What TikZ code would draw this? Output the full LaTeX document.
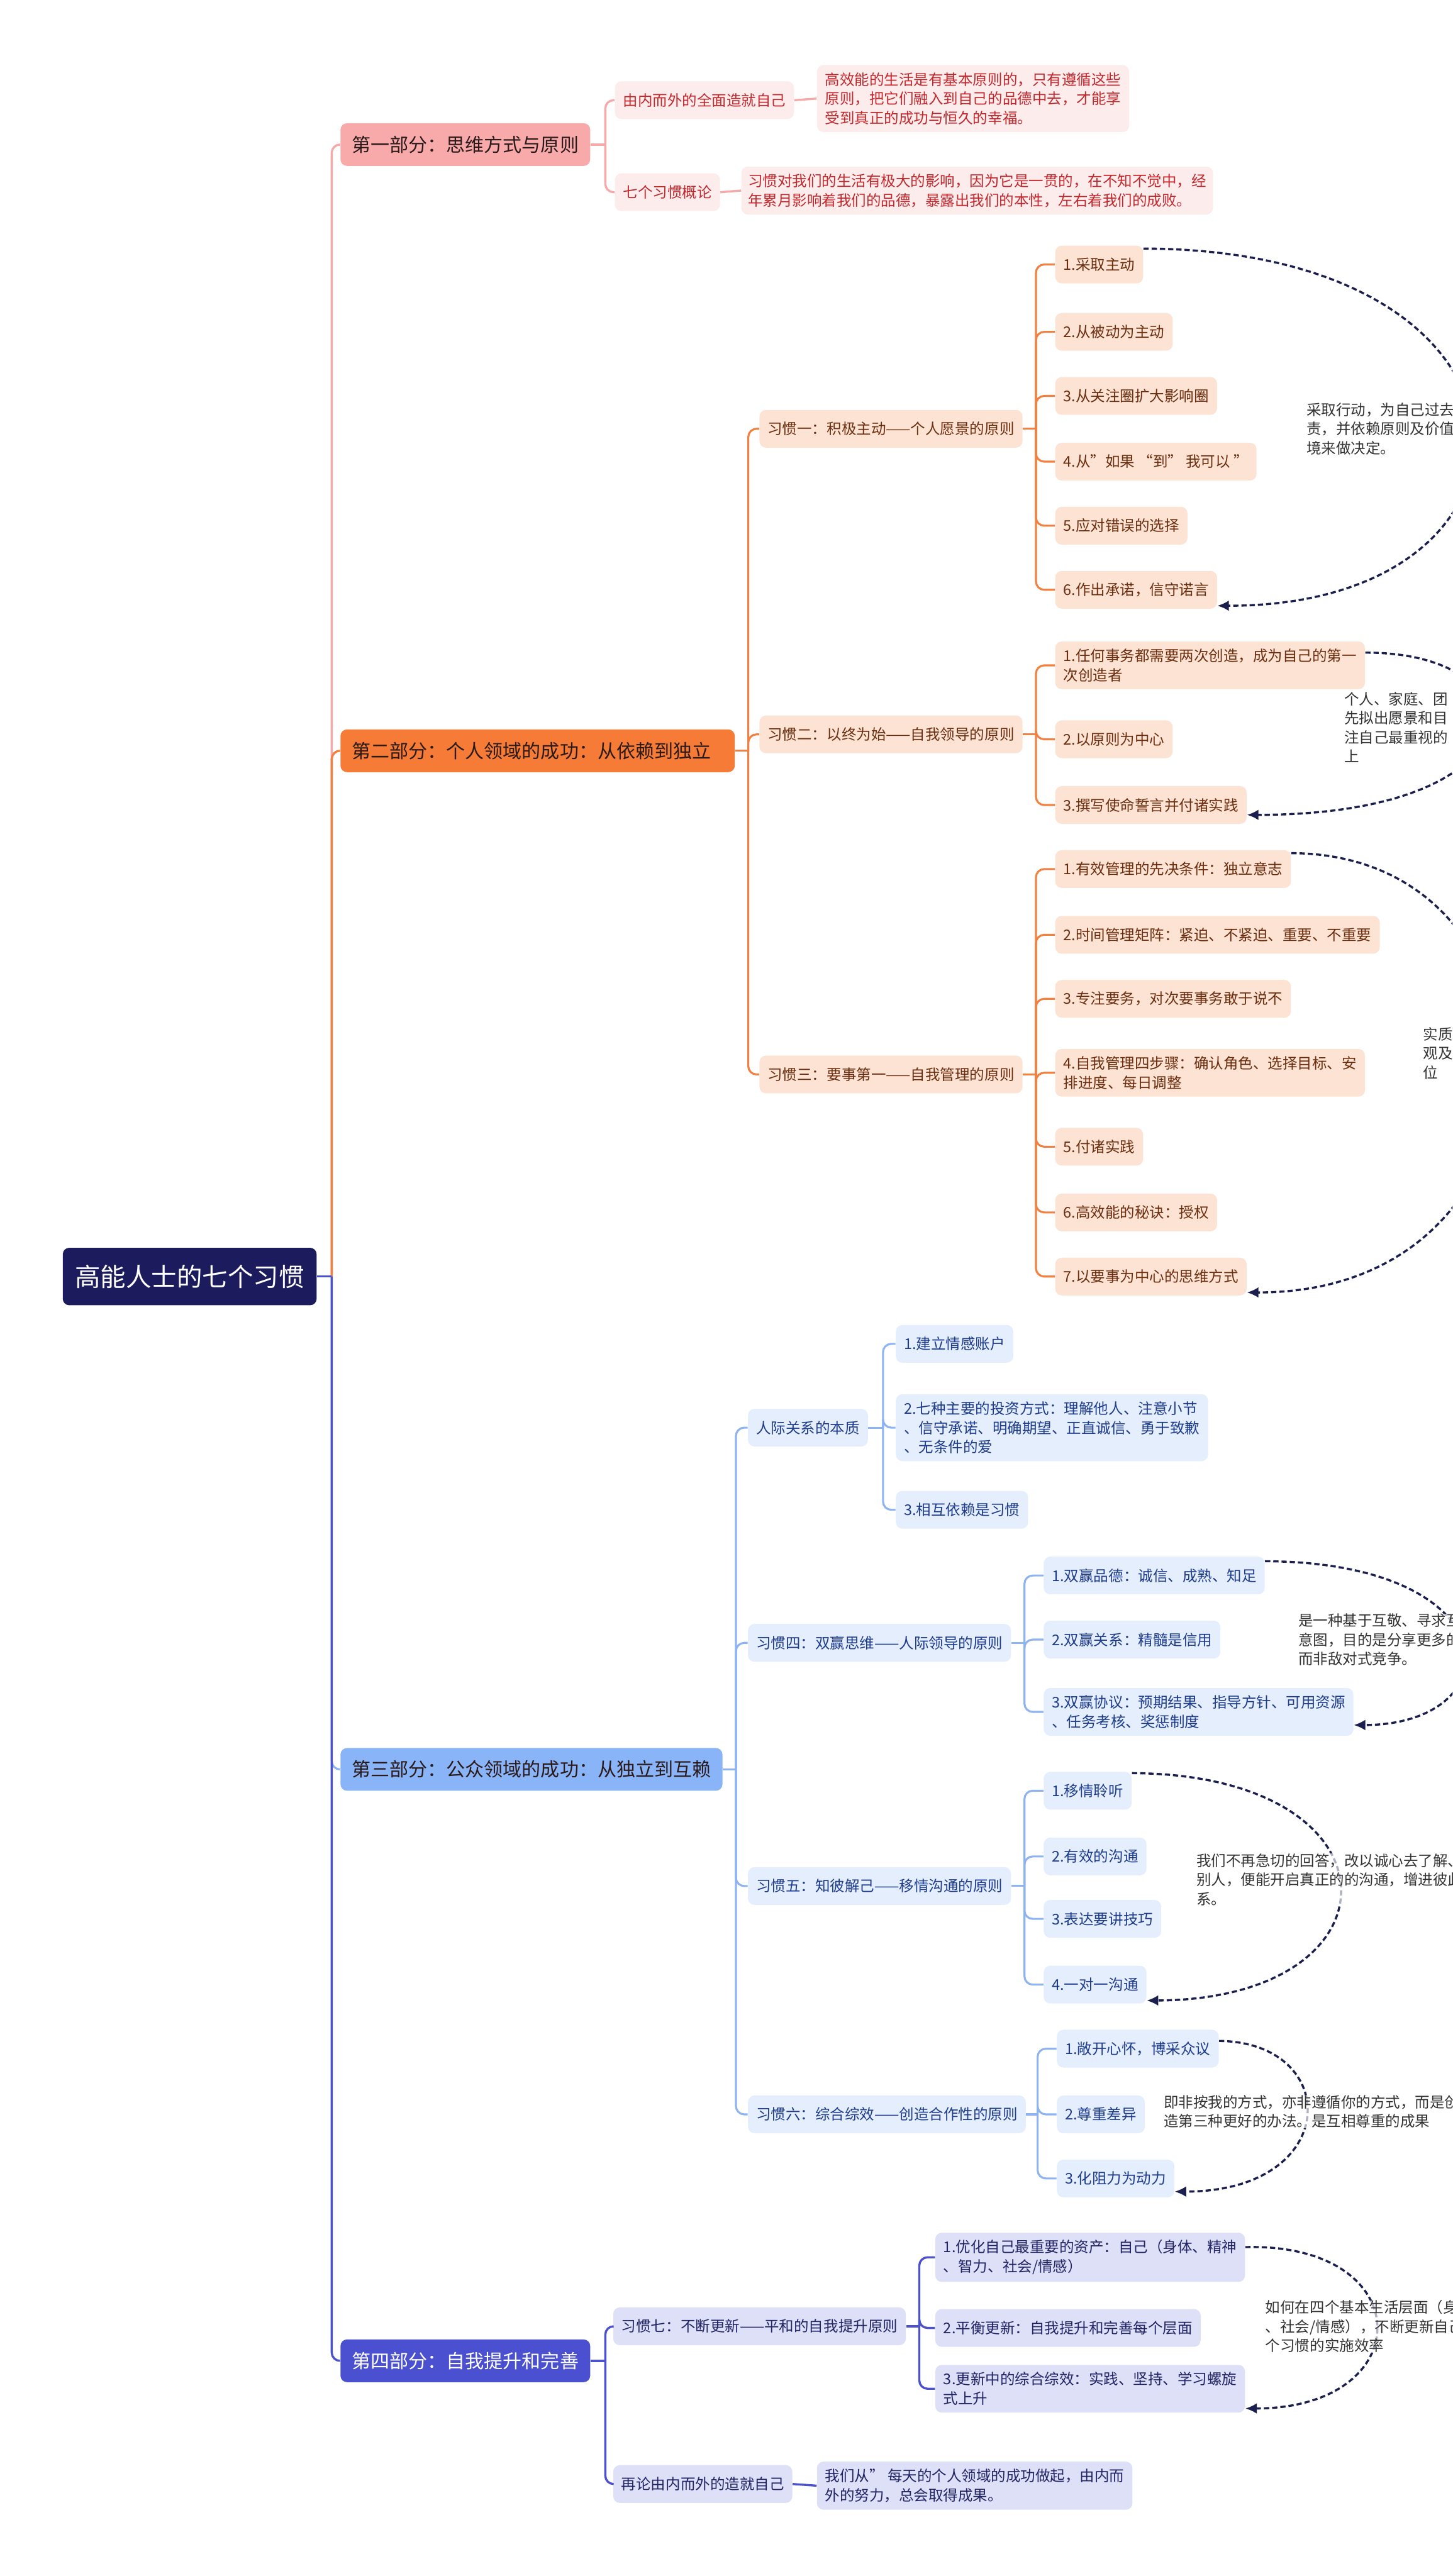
\documentclass[tikz,border=0pt]{standalone}
\usepackage{fontspec}
\setmainfont{Noto Sans CJK SC}
\usetikzlibrary{arrows.meta,calc}
\definecolor{rootc}{HTML}{1B1B5E}
\definecolor{pkline}{HTML}{F5A9A9}
\definecolor{pkpart}{HTML}{F8A9AA}
\definecolor{pkfill}{HTML}{FDECEC}
\definecolor{pktext}{HTML}{C0282D}
\definecolor{orline}{HTML}{F28040}
\definecolor{orpart}{HTML}{F57B36}
\definecolor{orfill}{HTML}{FDE3D4}
\definecolor{ortext}{HTML}{6B2E0E}
\definecolor{blline}{HTML}{8DB3F2}
\definecolor{blpart}{HTML}{8AB4F8}
\definecolor{blfill}{HTML}{E5EEFC}
\definecolor{bltext}{HTML}{1D3C8C}
\definecolor{puline}{HTML}{4B52CC}
\definecolor{pupart}{HTML}{4A50CF}
\definecolor{pufill}{HTML}{DEE0F8}
\definecolor{putext}{HTML}{222466}
\definecolor{dashc}{HTML}{1A1F4D}
\definecolor{notec}{HTML}{333333}
\definecolor{darktx}{HTML}{2A1A1A}
\newcommand\fsmall{\fontsize{9}{11.7}\selectfont}
\newcommand\fpartx{\fontsize{11.5}{14}\selectfont}
\newcommand\frootx{\fontsize{15.5}{18}\selectfont}
\begin{document}
\begin{tikzpicture}[x=1pt,y=1pt,
  box/.style={rounded corners=4pt, anchor=west, align=left, inner xsep=5pt, inner ysep=4.5pt, minimum height=23pt, font=\fsmall},
  partbox/.style={rounded corners=4pt, anchor=west, align=left, inner xsep=7pt, inner ysep=3pt, minimum height=26pt, font=\fpartx},
  pk/.style={box, fill=pkfill, text=pktext},
  orb/.style={box, fill=orfill, text=ortext},
  blb/.style={box, fill=blfill, text=bltext},
  pub/.style={box, fill=pufill, text=putext},
  lpk/.style={draw=pkline, line width=1.3pt},
  lor/.style={draw=orline, line width=1.2pt},
  lbl/.style={draw=blline, line width=1.2pt},
  lpu/.style={draw=puline, line width=1.3pt},
  rc/.style={rounded corners=5pt},
  dasharrow/.style={draw=dashc, line width=1.3pt, dash pattern=on 3.2pt off 1.8pt, -{Latex[length=7pt,width=6.5pt]}},
  note/.style={anchor=north west, align=left, inner sep=0pt, font=\fsmall, text=notec, fill=white, fill opacity=0.65, text opacity=1}
]
\useasboundingbox (0,0) rectangle (884,-1568);
\clip (0,0) rectangle (884,-1568);

% ---------- root and parts ----------
\node[rounded corners=4pt, anchor=west, fill=rootc, text=white, font=\frootx, inner xsep=7.5pt, minimum height=35pt] (r) at (38,-777) {高能人士的七个习惯};
\node[partbox, fill=pkpart, text=darktx] (p1) at (207,-88) {第一部分：思维方式与原则};
\node[partbox, fill=orpart, text=darktx, text width=226pt] (p2) at (207,-457) {第二部分：个人领域的成功：从依赖到独立};
\node[partbox, fill=blpart, text=darktx] (p3) at (207,-1077) {第三部分：公众领域的成功：从独立到互赖};
\node[partbox, fill=pupart, text=white] (p4) at (207,-1437) {第四部分：自我提升和完善};

% ---------- part 1 ----------
\node[pk] (a1) at (374,-61) {由内而外的全面造就自己};
\node[pk] (a1d) at (497,-60) {高效能的生活是有基本原则的，只有遵循这些\\原则，把它们融入到自己的品德中去，才能享\\受到真正的成功与恒久的幸福。};
\node[pk] (a2) at (374,-117) {七个习惯概论};
\node[pk, inner xsep=4pt] (a2d) at (451,-116) {习惯对我们的生活有极大的影响，因为它是一贯的，在不知不觉中，经\\年累月影响着我们的品德，暴露出我们的本性，左右着我们的成败。};

% ---------- part 2 ----------
\node[orb] (h1) at (462,-261) {习惯一：积极主动——个人愿景的原则};
\node[orb] (h2) at (462,-447) {习惯二：以终为始——自我领导的原则};
\node[orb] (h3) at (462,-654) {习惯三：要事第一——自我管理的原则};

\node[orb] (h1c1) at (642,-161) {1.采取主动};
\node[orb] (h1c2) at (642,-202) {2.从被动为主动};
\node[orb] (h1c3) at (642,-241) {3.从关注圈扩大影响圈};
\node[orb] (h1c4) at (642,-281) {4.从"如果 “到” 我可以 ”};
\node[orb] (h1c5) at (642,-320) {5.应对错误的选择};
\node[orb] (h1c6) at (642,-359) {6.作出承诺，信守诺言};

\node[orb] (h2c1) at (642,-405) {1.任何事务都需要两次创造，成为自己的第一\\次创造者};
\node[orb] (h2c2) at (642,-450) {2.以原则为中心};
\node[orb] (h2c3) at (642,-490) {3.撰写使命誓言并付诸实践};

\node[orb] (h3c1) at (642,-529) {1.有效管理的先决条件：独立意志};
\node[orb] (h3c2) at (642,-569) {2.时间管理矩阵：紧迫、不紧迫、重要、不重要};
\node[orb] (h3c3) at (642,-608) {3.专注要务，对次要事务敢于说不};
\node[orb] (h3c4) at (642,-653) {4.自我管理四步骤：确认角色、选择目标、安\\排进度、每日调整};
\node[orb] (h3c5) at (642,-698) {5.付诸实践};
\node[orb] (h3c6) at (642,-738) {6.高效能的秘诀：授权};
\node[orb] (h3c7) at (642,-777) {7.以要事为中心的思维方式};

% ---------- part 3 ----------
\node[blb] (q0) at (455,-869) {人际关系的本质};
\node[blb] (q4) at (455,-1000) {习惯四：双赢思维——人际领导的原则};
\node[blb] (q5) at (455,-1148) {习惯五：知彼解己——移情沟通的原则};
\node[blb] (q6) at (455,-1287) {习惯六：综合综效——创造合作性的原则};

\node[blb] (q0c1) at (545,-818) {1.建立情感账户};
\node[blb] (q0c2) at (545,-869) {2.七种主要的投资方式：理解他人、注意小节\\、信守承诺、明确期望、正直诚信、勇于致歉\\、无条件的爱};
\node[blb] (q0c3) at (545,-919) {3.相互依赖是习惯};

\node[blb] (q4c1) at (635,-959) {1.双赢品德：诚信、成熟、知足};
\node[blb] (q4c2) at (635,-998) {2.双赢关系：精髓是信用};
\node[blb] (q4c3) at (635,-1042) {3.双赢协议：预期结果、指导方针、可用资源\\、任务考核、奖惩制度};

\node[blb] (q5c1) at (635,-1090) {1.移情聆听};
\node[blb] (q5c2) at (635,-1130) {2.有效的沟通};
\node[blb] (q5c3) at (635,-1168) {3.表达要讲技巧};
\node[blb] (q5c4) at (635,-1208) {4.一对一沟通};

\node[blb] (q6c1) at (643,-1247) {1.敞开心怀，博采众议};
\node[blb] (q6c2) at (643,-1287) {2.尊重差异};
\node[blb] (q6c3) at (643,-1326) {3.化阻力为动力};

% ---------- part 4 ----------
\node[pub] (s7) at (373,-1416) {习惯七：不断更新——平和的自我提升原则};
\node[pub] (s8) at (373,-1512) {再论由内而外的造就自己};
\node[pub] (s8d) at (497,-1513) {我们从" 每天的个人领域的成功做起，由内而\\外的努力，总会取得成果。};

\node[pub] (s7c1) at (569,-1374) {1.优化自己最重要的资产：自己（身体、精神\\、智力、社会/情感）};
\node[pub] (s7c2) at (569,-1417) {2.平衡更新：自我提升和完善每个层面};
\node[pub] (s7c3) at (569,-1454) {3.更新中的综合综效：实践、坚持、学习螺旋\\式上升};

% ---------- connectors: root ----------
\coordinate (rj) at ($(r.east)+(9,0)$);
\draw[lpk, rc] (rj) |- (p1.west);
\draw[lbl, rc] (rj) |- (p3.west);
\draw[lor, line width=1.3pt, rc] (rj) |- (p2.west);
\draw[lpu, rc] (rj) |- (p4.west);
\draw[lpu] (r.east) -- (rj);

% part1
\coordinate (p1j) at ($(p1.east)+(9,0)$);
\draw[lpk] (p1.east) -- (p1j);
\foreach \c in {a1,a2} \draw[lpk, rc] (p1j) |- (\c.west);
\draw[lpk] (a1.east) -- (a1d.west);
\draw[lpk] (a2.east) -- (a2d.west);

% part2
\coordinate (p2j) at ($(p2.east)+(8,0)$);
\draw[lor] (p2.east) -- (p2j);
\foreach \c in {h1,h2,h3} \draw[lor, rc] (p2j) |- (\c.west);
\coordinate (h1j) at ($(h1.east)+(8,0)$);
\draw[lor] (h1.east) -- (h1j);
\foreach \c in {h1c1,h1c2,h1c3,h1c4,h1c5,h1c6} \draw[lor, rc] (h1j) |- (\c.west);
\coordinate (h2j) at ($(h2.east)+(8,0)$);
\draw[lor] (h2.east) -- (h2j);
\foreach \c in {h2c1,h2c2,h2c3} \draw[lor, rc] (h2j) |- (\c.west);
\coordinate (h3j) at ($(h3.east)+(8,0)$);
\draw[lor] (h3.east) -- (h3j);
\foreach \c in {h3c1,h3c2,h3c3,h3c4,h3c5,h3c6,h3c7} \draw[lor, rc] (h3j) |- (\c.west);

% part3
\coordinate (p3j) at ($(p3.east)+(8,0)$);
\draw[lbl] (p3.east) -- (p3j);
\foreach \c in {q0,q4,q5,q6} \draw[lbl, rc] (p3j) |- (\c.west);
\coordinate (q0j) at ($(q0.east)+(9,0)$);
\draw[lbl] (q0.east) -- (q0j);
\foreach \c in {q0c1,q0c2,q0c3} \draw[lbl, rc] (q0j) |- (\c.west);
\coordinate (q4j) at ($(q4.east)+(8,0)$);
\draw[lbl] (q4.east) -- (q4j);
\foreach \c in {q4c1,q4c2,q4c3} \draw[lbl, rc] (q4j) |- (\c.west);
\coordinate (q5j) at ($(q5.east)+(8,0)$);
\draw[lbl] (q5.east) -- (q5j);
\foreach \c in {q5c1,q5c2,q5c3,q5c4} \draw[lbl, rc] (q5j) |- (\c.west);
\coordinate (q6j) at ($(q6.east)+(7,0)$);
\draw[lbl] (q6.east) -- (q6j);
\foreach \c in {q6c1,q6c2,q6c3} \draw[lbl, rc] (q6j) |- (\c.west);

% part4
\coordinate (p4j) at ($(p4.east)+(9,0)$);
\draw[lpu] (p4.east) -- (p4j);
\foreach \c in {s7,s8} \draw[lpu, rc] (p4j) |- (\c.west);
\coordinate (s7j) at ($(s7.east)+(8,0)$);
\draw[lpu] (s7.east) -- (s7j);
\foreach \c in {s7c1,s7c2,s7c3} \draw[lpu, rc] (s7j) |- (\c.west);
\draw[lpu] (s8.east) -- (s8d.west);

% ---------- dashed summary arrows ----------
\draw[dasharrow] ([yshift=-2pt]h1c1.north east) .. controls (955,-152) and (955,-369) .. ([yshift=2pt]h1c6.south east);
\draw[dasharrow] ([yshift=-7pt]h2c1.north east) .. controls (940,-397) and (940,-496) .. ([yshift=-6pt]h2c3.east);
\draw[dasharrow] ([yshift=-2pt]h3c1.north east) .. controls (960,-520) and (960,-787) .. ([yshift=2pt]h3c7.south east);
\draw[dasharrow] ([yshift=-3pt]q4c1.north east) .. controls (921,-951) and (921,-1050) .. ([yshift=-8pt]q4c3.east);
\draw[dasharrow] ([yshift=-1pt]q5c1.north east) .. controls (856,-1080) and (856,-1217) .. ([yshift=2pt]q5c4.south east);
\draw[dasharrow] ([yshift=-7pt]q6c1.north east) .. controls (817,-1243) and (817,-1334) .. ([yshift=-8pt]q6c3.east);
\draw[dasharrow] ([yshift=-9pt]s7c1.north east) .. controls (864,-1365) and (864,-1466) .. ([yshift=-12pt]s7c3.east);

% ---------- notes ----------
\node[note] (n1) at (795,-245) {采取行动，为自己过去\\责，并依赖原则及价值\\境来做决定。};
\node[note] (n2) at (818,-421) {个人、家庭、团\\先拟出愿景和目\\注自己最重视的\\上};
\node[note] (n3) at (866,-625) {实质\\观及\\位};
\node[note] (n4) at (790,-982) {是一种基于互敬、寻求互\\意图，目的是分享更多的\\而非敌对式竞争。};
\node[note] (n5) at (728,-1128) {我们不再急切的回答，改以诚心去了解、\\别人，便能开启真正的的沟通，增进彼此\\系。};
\node[note] (n6) at (708,-1275) {即非按我的方式，亦非遵循你的方式，而是创\\造第三种更好的办法。是互相尊重的成果};
\node[note] (n7) at (770,-1400) {如何在四个基本生活层面（身\\、社会/情感），不断更新自己\\个习惯的实施效率};
\end{tikzpicture}
\end{document}
